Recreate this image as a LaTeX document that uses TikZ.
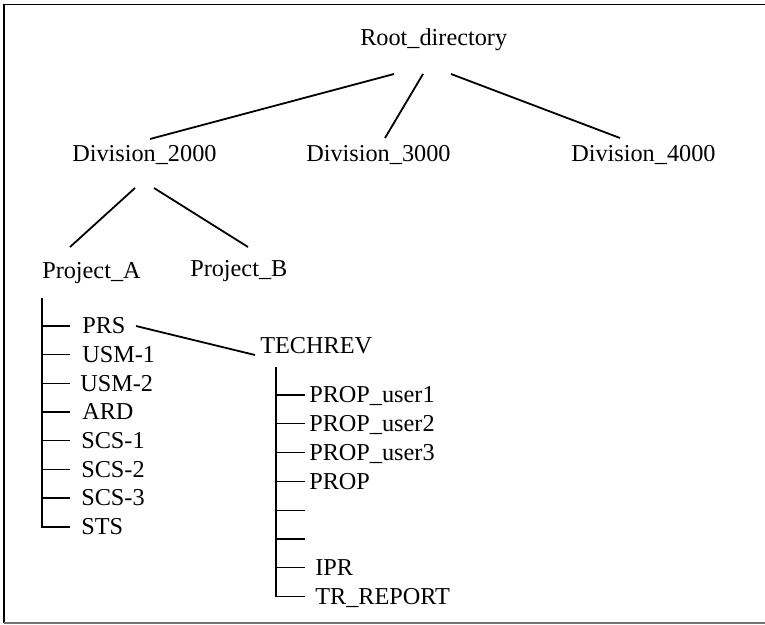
\documentclass[tikz,border=0pt]{standalone}
\usepackage{fontspec}
\setmainfont{Liberation Serif}
\begin{document}
\begin{tikzpicture}[x=0.75pt,y=-0.75pt,
  lbl/.style={anchor=west,inner sep=0pt,text height=11.9pt,text depth=0pt,font=\fontsize{18.2}{21}\selectfont},
  conn/.style={line width=1.35pt},
  treeln/.style={line width=1pt},
  frameln/.style={line width=1.3pt}]
\useasboundingbox (0,0) rectangle (765,625);
% frame
\draw[frameln] (4,623) -- (4,4.5) -- (765,4.5);
\draw[line width=1pt,black!55] (4,623) -- (765,623);

% nodes
\node[lbl] (root) at (360,38) {Root\_directory};
\node[lbl] (d2) at (72,154) {Division\_2000};
\node[lbl] (d3) at (306,154) {Division\_3000};
\node[lbl] (d4) at (571,154) {Division\_4000};
\node[lbl] (pa) at (42,271) {Project\_A};
\node[lbl] (pb) at (190,269) {Project\_B};

% connector end points
\coordinate (r1) at (394,74);
\coordinate (r2) at (423,74);
\coordinate (r3) at (451,74);
\coordinate (d2t) at (150,139);
\coordinate (d3t) at (385,138);
\coordinate (d4t) at (620,138);
\coordinate (d2a) at (135,188);
\coordinate (d2b) at (154,188);
\coordinate (pat) at (70,247);
\coordinate (pbt) at (248,247);

\draw[conn] (r1) -- (d2t);
\draw[conn] (r2) -- (d3t);
\draw[conn] (r3) -- (d4t);
\draw[conn] (d2a) -- (pat);
\draw[conn] (d2b) -- (pbt);

% Project_A tree
\coordinate (vA) at (42,298);
\node[lbl] (prs) at (82,326) {PRS};
\node[lbl] (usm1) at (82,354.7) {USM-1};
\node[lbl] (usm2) at (80,383.4) {USM-2};
\node[lbl] (ard) at (82,412) {ARD};
\node[lbl] (scs1) at (81,440.8) {SCS-1};
\node[lbl] (scs2) at (81,469.5) {SCS-2};
\node[lbl] (scs3) at (81,498) {SCS-3};
\node[lbl] (sts) at (81,527) {STS};
\draw[treeln] (vA) -- (vA |- sts.west) -- ++(28,0);
\foreach \n in {prs,usm1,usm2,ard,scs1,scs2,scs3}
  \draw[treeln] (vA |- \n.west) -- ++(28,0);

% TECHREV
\node[lbl] (tech) at (260,346) {TECHREV};
\coordinate (prsr) at (136,326);
\coordinate (techl) at (255,355);
\draw[conn] (prsr) -- (techl);

\coordinate (vT) at (276,367);
\node[lbl] (pu1) at (309,395) {PROP\_user1};
\node[lbl] (pu2) at (309,423.8) {PROP\_user2};
\node[lbl] (pu3) at (309,452.6) {PROP\_user3};
\node[lbl] (prop) at (309,481.4) {PROP};
\coordinate (blank1) at (305,510.2);
\coordinate (blank2) at (305,539);
\node[lbl] (ipr) at (315,567.8) {IPR};
\node[lbl] (trr) at (315,596.6) {TR\_REPORT};
\draw[treeln] (vT) -- (vT |- trr.west) -- ++(29,0);
\foreach \n in {pu1,pu2,pu3,prop,blank1,blank2,ipr}
  \draw[treeln] (vT |- \n.west) -- ++(29,0);
\end{tikzpicture}
\end{document}
